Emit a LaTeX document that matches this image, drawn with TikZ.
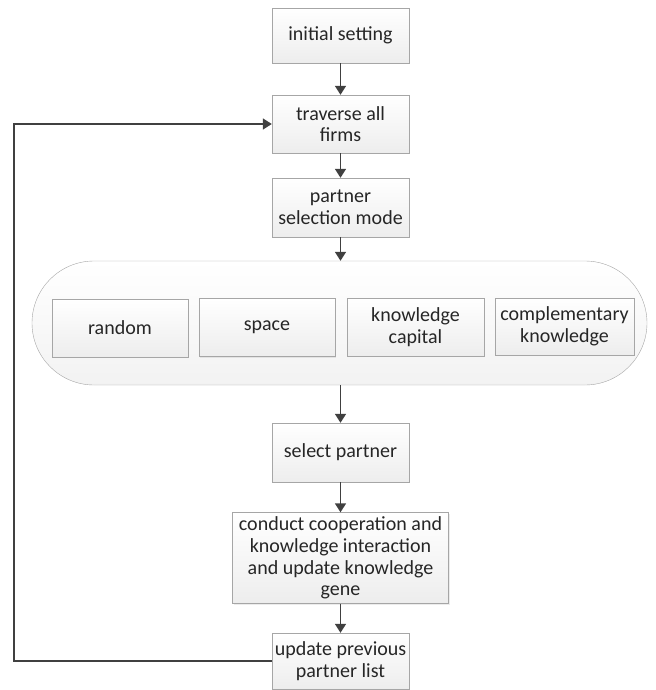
\documentclass[tikz,border=0pt]{standalone}
\usepackage{fontspec}
\setmainfont{Carlito}
\usetikzlibrary{arrows.meta,shadows}

\tikzset{
	stepbox/.style={draw=gray!70, top color=white, bottom color=gray!14,
		drop shadow={opacity=.15, shadow xshift=1.2bp, shadow yshift=-1.2bp},
		align=center, inner sep=1bp, text=black!85, minimum width=137bp, minimum height=57bp},
	flow/.style={-{Triangle[length=9bp,width=11bp]}, line width=1.6bp, black!75},
}

\begin{document}
\begin{tikzpicture}[x=1bp, y=-1bp, font=\fontsize{20bp}{21.7bp}\selectfont]
	\useasboundingbox (0,0) rectangle (656,690);
	
	\node[stepbox, minimum height=55bp] (init) at (340.5,35.5){initial setting};
	\node[stepbox, minimum height=58bp] (traverse) at (340.5,124){traverse all\\firms};
	\node[stepbox, minimum height=59bp] (mode) at (340.5,207.5){partner\\selection mode};
	
	\draw[gray!70, top color=white, bottom color=gray!10, rounded corners=62bp] (32,261) rectangle (647,385);
	\node[minimum width=615bp, minimum height=124bp, inner sep=0] (modes) at (339.5,323){};
	
	\node[stepbox, minimum width=136bp, minimum height=58bp] (random) at (120,328){random};
	\node[stepbox, minimum width=136bp, minimum height=58bp] (space) at (267,327.5){space};
	\node[stepbox, minimum width=137bp, minimum height=58bp] (capital) at (415.5,327){knowledge\\capital};
	\node[stepbox, minimum width=139bp, minimum height=57bp] (complement) at (564.5,326.5){complementary\\knowledge};
	
	\node[stepbox, minimum height=59bp] (select) at (340.5,452.5){select partner};
	\node[stepbox, minimum width=216bp, minimum height=91bp] (conduct) at (340.5,558){conduct cooperation and\\knowledge interaction\\and update knowledge\\gene};
	\node[stepbox, minimum height=56bp] (update) at (340.5,661){update previous\\partner list};
	
	\draw[flow] (init) -- (traverse);
	\draw[flow] (traverse) -- (mode);
	\draw[flow] (mode.south) -- (mode.south |- modes.north);
	\draw[flow] (select.north |- modes.south) -- (select.north);
	\draw[flow] (select) -- (conduct);
	\draw[flow] (conduct) -- (update);
	
	\coordinate (loopa) at (14,661);
	\coordinate (loopb) at (14,124);
	\draw[flow] (update.west) -- (loopa) -- (loopb) -- (traverse.west);
	
\end{tikzpicture}
\end{document}
